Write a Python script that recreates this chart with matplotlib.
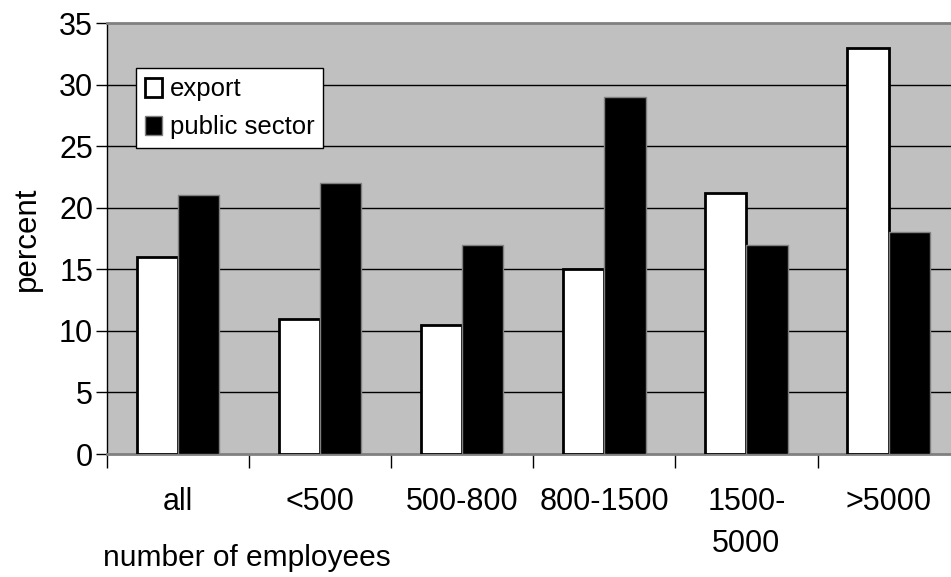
import matplotlib
matplotlib.use("Agg")
import matplotlib.pyplot as plt
import numpy as np

categories = ["all", "<500", "500-800", "800-1500", "1500-\n5000", ">5000"]
export = [16, 11, 10.5, 15, 21.2, 33]
public_sector = [21, 22, 17, 29, 17, 18]
yticks = [0, 5, 10, 15, 20, 25, 30, 35]

plt.rcParams['font.family'] = ['Liberation Sans', 'DejaVu Sans']

W, H = 951, 577
fig = plt.figure(figsize=(W / 100, H / 100), dpi=100)
left, right, top, bottom = 107, 959.6, 23, 454
ax = fig.add_axes([left / W, 1 - bottom / H, (right - left) / W, (bottom - top) / H])
ax.set_facecolor('#C0C0C0')

x = np.arange(len(categories))
bw = 0.29
ax.bar(x - bw / 2, export, width=bw, color='white', edgecolor='black', linewidth=2.0,
       label='export', zorder=3)
ax.bar(x + bw / 2, public_sector, width=bw, color='black', edgecolor='#808080', linewidth=1.0,
       label='public sector', zorder=3)

ax.set_xlim(-0.5, len(categories) - 0.5)
ax.set_ylim(0, 35)
ax.set_yticks(yticks)
ax.set_yticklabels([str(v) for v in yticks], fontsize=22)
for v in yticks[1:-1]:
    ax.axhline(v, color='black', linewidth=1.0, zorder=1)

ax.set_xticks(x)
ax.set_xticklabels(categories, fontsize=22, linespacing=1.5)
ax.set_xticks(np.arange(len(categories) + 1) - 0.5, minor=True)
ax.tick_params(axis='x', which='major', length=0, pad=24)
ax.tick_params(axis='x', which='minor', length=10, width=1, color='black', direction='out')
ax.tick_params(axis='y', which='major', length=8, width=1, color='black', pad=2, direction='out')

for s in ['top', 'bottom', 'right']:
    ax.spines[s].set_color('#808080')
    ax.spines[s].set_linewidth(2)
ax.spines['left'].set_color('black')
ax.spines['left'].set_linewidth(1)

fig.text(27 / W, 1 - 238.5 / H, 'percent', rotation=90, fontsize=22.5, ha='center', va='center')
fig.text(103 / W, 1 - 558 / H, 'number of employees', fontsize=21.5, ha='left', va='center')

leg = ax.legend(loc='upper left', bbox_to_anchor=(135.7 / W, 1 - 68.3 / H),
                bbox_transform=fig.transFigure, fontsize=18.5, frameon=True, fancybox=False,
                edgecolor='black', facecolor='white', framealpha=1, borderaxespad=0,
                handlelength=0.68, handleheight=0.75, handletextpad=0.3, labelspacing=0.55,
                borderpad=0.35)
leg.get_frame().set_linewidth(1.0)
leg.set_zorder(5)

fig.savefig('out.png', dpi=100, facecolor='white')
